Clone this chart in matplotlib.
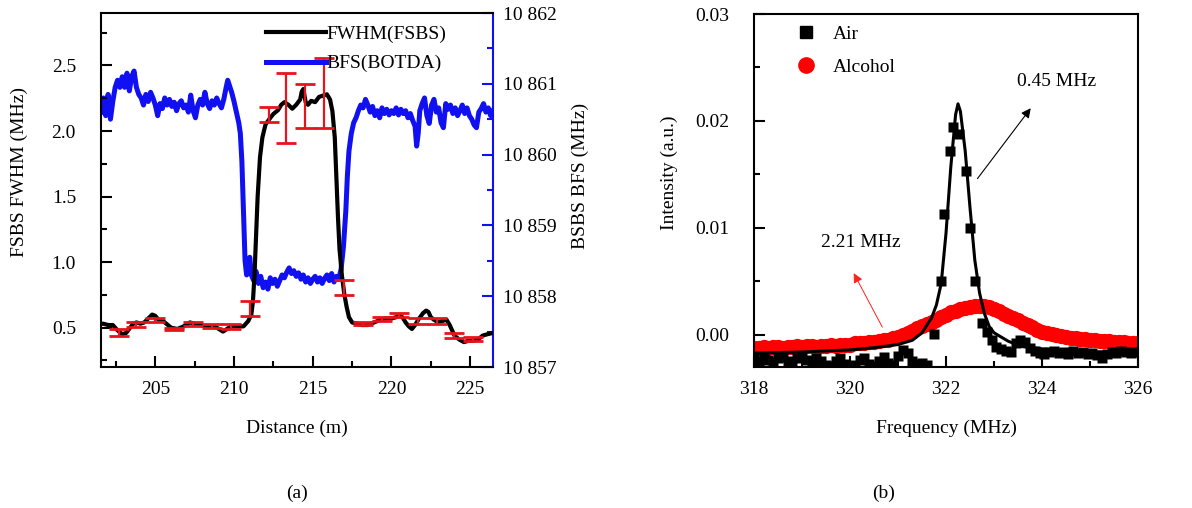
import matplotlib
matplotlib.use("Agg")
import matplotlib.pyplot as plt
from matplotlib.ticker import MultipleLocator, FuncFormatter, FormatStrFormatter
from matplotlib.lines import Line2D

plt.rcParams['font.family'] = ['Liberation Serif', 'DejaVu Serif']
plt.rcParams['font.size'] = 14

# ---------------- Panel (a) data ----------------
fwhm_x = [201.55, 201.7, 202.0, 202.3, 202.6, 202.9, 203.15, 203.4, 203.6, 203.8, 204.05, 204.3, 204.55,
          204.8, 205.0, 205.2, 205.5, 205.8, 206.0, 206.4, 206.8, 207.2, 207.5, 207.9, 208.2, 208.6,
          208.9, 209.3, 209.55, 209.8, 210.2, 210.6, 210.9, 211.1, 211.2, 211.3, 211.4, 211.5, 211.65,
          211.8, 212.0, 212.3, 212.5, 212.8, 213.0, 213.2, 213.45, 213.7, 213.95, 214.2, 214.3, 214.4,
          214.55, 214.7, 214.9, 215.15, 215.4, 215.65, 215.9, 216.1, 216.25, 216.4, 216.5, 216.6, 216.7,
          216.85, 217.0, 217.15, 217.3, 217.5, 217.8, 218.1, 218.5, 218.9, 219.3, 219.6, 220.0, 220.3,
          220.5, 220.7, 220.9, 221.1, 221.3, 221.5, 221.7, 222.0, 222.2, 222.35, 222.5, 222.7, 223.0,
          223.2, 223.5, 223.7, 224.0, 224.3, 224.6, 224.9, 225.2, 225.5, 225.8, 226.1, 226.45]
fwhm_y = [0.53, 0.53, 0.52, 0.52, 0.48, 0.45, 0.46, 0.50, 0.53, 0.54, 0.53, 0.54, 0.57,
          0.60, 0.59, 0.56, 0.55, 0.52, 0.50, 0.49, 0.51, 0.54, 0.53, 0.52, 0.51, 0.51,
          0.50, 0.47, 0.49, 0.51, 0.51, 0.51, 0.55, 0.60, 0.70, 0.90, 1.20, 1.50, 1.80,
          1.95, 2.05, 2.10, 2.13, 2.16, 2.20, 2.22, 2.20, 2.17, 2.20, 2.24, 2.30, 2.32,
          2.22, 2.20, 2.23, 2.22, 2.26, 2.27, 2.28, 2.24, 2.15, 1.95, 1.65, 1.35, 1.10,
          0.90, 0.76, 0.66, 0.58, 0.54, 0.53, 0.52, 0.52, 0.54, 0.56, 0.57, 0.57, 0.58,
          0.59, 0.58, 0.54, 0.51, 0.49, 0.52, 0.56, 0.61, 0.63, 0.62, 0.58, 0.56, 0.54,
          0.55, 0.56, 0.52, 0.44, 0.41, 0.39, 0.40, 0.40, 0.41, 0.44, 0.45, 0.46]

err_x = [202.7, 203.8, 205.0, 206.2, 207.4, 208.6, 209.8, 211.0, 212.2, 213.3,
         214.5, 215.7, 217.0, 218.2, 219.4, 220.5, 221.7, 222.9, 224.0, 225.2]
err_y = [0.465, 0.525, 0.555, 0.49, 0.525, 0.515, 0.51, 0.645, 2.125, 2.175,
         2.19, 2.29, 0.805, 0.53, 0.565, 0.595, 0.55, 0.55, 0.44, 0.415]
err_e = [0.025, 0.02, 0.015, 0.01, 0.015, 0.015, 0.02, 0.055, 0.055, 0.265,
         0.17, 0.27, 0.055, 0.01, 0.015, 0.015, 0.02, 0.02, 0.02, 0.015]

bfs_x = [201.55, 201.7, 201.85, 202.0, 202.15, 202.3, 202.45, 202.6, 202.75, 202.9, 203.05, 203.2,
         203.35, 203.5, 203.65, 203.8, 203.95, 204.1, 204.25, 204.4, 204.55, 204.7, 204.85, 205.0,
         205.15, 205.3, 205.45, 205.6, 205.75, 205.9, 206.05, 206.2, 206.35, 206.5, 206.65, 206.8,
         206.95, 207.1, 207.25, 207.4, 207.55, 207.7, 207.85, 208.0, 208.15, 208.3, 208.45, 208.6,
         208.75, 208.9, 209.05, 209.2, 209.35, 209.5, 209.6, 209.7, 209.85, 210.0, 210.15, 210.3,
         210.4, 210.5, 210.6, 210.7, 210.8, 210.9, 211.0, 211.1, 211.25, 211.4, 211.55, 211.7,
         211.85, 212.0, 212.15, 212.3, 212.45, 212.6, 212.75, 212.9, 213.05, 213.2, 213.35, 213.5,
         213.65, 213.8, 213.95, 214.1, 214.25, 214.4, 214.55, 214.7, 214.85, 215.0, 215.15, 215.3,
         215.45, 215.6, 215.75, 215.9, 216.05, 216.2, 216.35, 216.5, 216.65, 216.8, 216.95, 217.1,
         217.2, 217.3, 217.45, 217.6, 217.75, 217.9, 218.05, 218.2, 218.35, 218.5, 218.65, 218.8,
         218.95, 219.1, 219.25, 219.4, 219.55, 219.7, 219.85, 220.0, 220.15, 220.3, 220.45, 220.6,
         220.75, 220.9, 221.05, 221.2, 221.35, 221.5, 221.6, 221.7, 221.8, 221.95, 222.1, 222.25,
         222.4, 222.55, 222.7, 222.85, 223.0, 223.15, 223.3, 223.45, 223.6, 223.75, 223.9, 224.05,
         224.2, 224.35, 224.5, 224.65, 224.8, 224.95, 225.1, 225.25, 225.4, 225.55, 225.7, 225.85,
         226.0, 226.15, 226.3, 226.45]
bfs_y = [10860.60, 10860.80, 10860.55, 10860.85, 10860.50, 10860.75, 10860.95, 10861.05, 10860.95,
         10861.10, 10860.95, 10861.15, 10860.90, 10861.10, 10861.18, 10860.95, 10860.85, 10860.80,
         10860.70, 10860.85, 10860.75, 10860.88, 10860.80, 10860.70, 10860.55, 10860.72, 10860.65,
         10860.80, 10860.70, 10860.78, 10860.68, 10860.74, 10860.62, 10860.72, 10860.76, 10860.66,
         10860.70, 10860.60, 10860.84, 10860.62, 10860.52, 10860.70, 10860.78, 10860.70, 10860.88,
         10860.72, 10860.65, 10860.76, 10860.70, 10860.80, 10860.72, 10860.66, 10860.78, 10860.95,
         10861.05, 10860.98, 10860.88, 10860.75, 10860.60, 10860.45, 10860.30, 10859.90, 10859.20,
         10858.50, 10858.30, 10858.45, 10858.55, 10858.30, 10858.22, 10858.35, 10858.18, 10858.28,
         10858.12, 10858.20, 10858.10, 10858.26, 10858.18, 10858.24, 10858.14, 10858.22, 10858.30,
         10858.26, 10858.34, 10858.40, 10858.32, 10858.36, 10858.28, 10858.33, 10858.24, 10858.30,
         10858.20, 10858.26, 10858.18, 10858.24, 10858.28, 10858.20, 10858.26, 10858.18, 10858.25,
         10858.30, 10858.22, 10858.32, 10858.20, 10858.28, 10858.24, 10858.38, 10858.70, 10859.20,
         10859.70, 10860.05, 10860.30, 10860.45, 10860.52, 10860.62, 10860.70, 10860.66, 10860.78,
         10860.70, 10860.60, 10860.68, 10860.55, 10860.62, 10860.52, 10860.66, 10860.58, 10860.64,
         10860.56, 10860.62, 10860.58, 10860.66, 10860.56, 10860.64, 10860.58, 10860.62, 10860.52,
         10860.58, 10860.48, 10860.40, 10860.12, 10860.30, 10860.62, 10860.72, 10860.80, 10860.55,
         10860.44, 10860.70, 10860.78, 10860.60, 10860.66, 10860.45, 10860.38, 10860.72, 10860.64,
         10860.70, 10860.58, 10860.66, 10860.55, 10860.62, 10860.70, 10860.58, 10860.66, 10860.55,
         10860.50, 10860.42, 10860.38, 10860.60, 10860.65, 10860.72, 10860.60, 10860.66, 10860.55,
         10860.62]

# ---------------- Panel (b) data ----------------
air_f = [318.0, 318.1, 318.2, 318.3, 318.4, 318.5, 318.6, 318.7, 318.8, 318.9, 319.0, 319.1, 319.2,
         319.3, 319.4, 319.5, 319.6, 319.7, 319.8, 319.9, 320.0, 320.1, 320.2, 320.3, 320.4, 320.5,
         320.6, 320.7, 320.8, 320.9, 321.0, 321.1, 321.2, 321.3, 321.4, 321.5, 321.6, 321.76, 321.9,
         321.95, 322.08, 322.15, 322.28, 322.41, 322.49, 322.6, 322.74, 322.85, 322.95, 323.05,
         323.15, 323.25, 323.35, 323.45, 323.55, 323.65, 323.75, 323.85, 323.95, 324.05, 324.15,
         324.25, 324.35, 324.45, 324.55, 324.65, 324.75, 324.85, 324.95, 325.05, 325.15, 325.25,
         325.35, 325.45, 325.55, 325.65, 325.75, 325.85, 325.95]
air_i = [-0.0022, -0.0024, -0.0021, -0.0023, -0.0025, -0.0022, -0.0021, -0.0024, -0.0026, -0.0022,
         -0.0021, -0.0023, -0.0027, -0.0022, -0.0024, -0.0028, -0.0029, -0.0024, -0.0022, -0.0027,
         -0.0029, -0.0028, -0.0023, -0.0022, -0.0027, -0.0029, -0.0024, -0.0021, -0.0026, -0.0028,
         -0.0020, -0.0014, -0.0017, -0.0024, -0.0027, -0.0026, -0.0028, 0.0001, 0.0050,
         0.0113, 0.0172, 0.0194, 0.0188, 0.0153, 0.0100, 0.0050, 0.0011, 0.0003, -0.0005, -0.0011,
         -0.0013, -0.0015, -0.0016, -0.0008, -0.0005, -0.0007, -0.0012, -0.0015, -0.0017, -0.0018,
         -0.0016, -0.0015, -0.0017, -0.0016, -0.0018, -0.0015, -0.0017, -0.0016, -0.0018, -0.0017,
         -0.0019, -0.0022, -0.0018, -0.0016, -0.0017, -0.0015, -0.0016, -0.0017, -0.0016]

fit_f = [318.0, 319.0, 320.0, 320.5, 321.0, 321.3, 321.5, 321.7, 321.8, 321.9, 322.0, 322.1, 322.2,
         322.25, 322.3, 322.4, 322.5, 322.6, 322.7, 322.8, 322.9, 323.0, 323.3, 323.6, 324.0, 325.0, 326.0]
fit_i = [-0.0017, -0.0016, -0.0014, -0.0012, -0.0009, -0.0005, 0.0002, 0.0016, 0.0028, 0.0048,
         0.0095, 0.0157, 0.0206, 0.0216, 0.0209, 0.0172, 0.0119, 0.0070, 0.0039, 0.0020, 0.0008,
         0.0002, -0.0006, -0.0011, -0.0013, -0.0016, -0.0016]

alc_f = [318.0, 318.1, 318.2, 318.3, 318.4, 318.5, 318.6, 318.7, 318.8, 318.9, 319.0, 319.1, 319.2,
         319.3, 319.4, 319.5, 319.6, 319.7, 319.8, 319.9, 320.0, 320.1, 320.2, 320.3, 320.4, 320.5,
         320.6, 320.7, 320.8, 320.9, 321.0, 321.1, 321.2, 321.3, 321.4, 321.5, 321.6, 321.7, 321.8,
         321.9, 322.0, 322.1, 322.2, 322.3, 322.4, 322.5, 322.6, 322.7, 322.8, 322.9, 323.0, 323.1,
         323.2, 323.3, 323.4, 323.5, 323.6, 323.7, 323.8, 323.9, 324.0, 324.1, 324.2, 324.3, 324.4,
         324.5, 324.6, 324.7, 324.8, 324.9, 325.0, 325.1, 325.2, 325.3, 325.4, 325.5, 325.6, 325.7,
         325.8, 325.9, 326.0]
alc_i = [-0.0012, -0.0012, -0.0011, -0.0012, -0.0011, -0.0011, -0.0012, -0.0011, -0.0011, -0.0010,
         -0.0011, -0.0010, -0.0010, -0.0011, -0.0010, -0.0010, -0.0009, -0.0010, -0.0009, -0.0009,
         -0.0009, -0.0008, -0.0008, -0.0008, -0.0007, -0.0007, -0.0006, -0.0005, -0.0005, -0.0003,
         -0.0002, 0.0000, 0.0002, 0.0004, 0.0006, 0.0008, 0.0010, 0.0012, 0.0014, 0.0017, 0.0019,
         0.0021, 0.0022, 0.0024, 0.0025, 0.0026, 0.0027, 0.0027, 0.0027, 0.0026, 0.0024, 0.0022,
         0.0020, 0.0018, 0.0016, 0.0014, 0.0011, 0.0009, 0.0007, 0.0005, 0.0003, 0.0002, 0.0001,
         0.0000, -0.0001, -0.0002, -0.0003, -0.0003, -0.0004, -0.0004, -0.0005, -0.0005, -0.0006,
         -0.0006, -0.0006, -0.0007, -0.0007, -0.0007, -0.0008, -0.0008, -0.0008]

W, H = 1192, 508
fig = plt.figure(figsize=(W / 100, H / 100), dpi=100)

def box(x0, y0, x1, y1):
    return [x0 / W, 1 - y1 / H, (x1 - x0) / W, (y1 - y0) / H]

BLUE = '#1010f0'

# ---------------- Panel (a) ----------------
ax = fig.add_axes(box(101, 13, 493, 367))
ax2 = ax.twinx()
ax.set_zorder(ax2.get_zorder() + 1)
ax.patch.set_visible(False)

l_bfs, = ax2.plot(bfs_x, bfs_y, color=BLUE, lw=3.6, label='BFS(BOTDA)', solid_joinstyle='round')
l_fwhm, = ax.plot(fwhm_x, fwhm_y, color='black', lw=3.0, label='FWHM(FSBS)', solid_joinstyle='round')
ax.errorbar(err_x, err_y, yerr=err_e, fmt='none', ecolor='#e8141c', elinewidth=1.6,
            capsize=7, capthick=2.0, zorder=5)

ax.set_xlim(201.55, 226.45)
ax.set_ylim(0.2, 2.9)
ax2.set_ylim(10857, 10862)

ax.xaxis.set_major_locator(MultipleLocator(5))
ax.xaxis.set_minor_locator(MultipleLocator(2.5))
ax.yaxis.set_major_locator(MultipleLocator(0.5))
ax.yaxis.set_minor_locator(MultipleLocator(0.25))
ax.yaxis.set_major_formatter(FormatStrFormatter('%.1f'))
ax2.yaxis.set_major_locator(MultipleLocator(1))
ax2.yaxis.set_minor_locator(MultipleLocator(0.5))
ax2.yaxis.set_major_formatter(FuncFormatter(lambda v, p: f"{int(round(v)) // 1000} {int(round(v)) % 1000:03d}"))

ax.tick_params(which='major', direction='in', length=8, width=1.5, labelsize=14)
ax.tick_params(which='minor', direction='in', length=4, width=1.5)
ax.tick_params(axis='y', which='major', pad=18)
ax.tick_params(axis='x', which='major', pad=10)
ax2.tick_params(which='major', direction='in', length=8, width=1.5, labelsize=14, colors=BLUE,
                labelcolor='black', pad=7)
ax2.tick_params(which='minor', direction='in', length=4, width=1.5, colors=BLUE)

for s in ['left', 'bottom', 'top']:
    ax.spines[s].set_linewidth(1.5)
ax.spines['right'].set_visible(False)
for s in ['left', 'bottom', 'top']:
    ax2.spines[s].set_visible(False)
ax2.spines['right'].set_color(BLUE)
ax2.spines['right'].set_linewidth(1.5)

ax.set_xlabel('Distance (m)', fontsize=14, labelpad=16)
ax.set_ylabel('FSBS FWHM (MHz)', fontsize=14)
ax.yaxis.set_label_coords(-0.185, 0.55)
ax2.set_ylabel('BSBS BFS (MHz)', fontsize=14)
ax2.yaxis.set_label_coords(1.20, 0.54)

ax.legend(handles=[l_fwhm, l_bfs], loc='upper left', bbox_to_anchor=(0.41, 0.977), frameon=False,
          fontsize=14, handlelength=3.1, handletextpad=0.05, labelspacing=0.62, borderpad=0.2,
          borderaxespad=0)

# ---------------- Panel (b) ----------------
bx = fig.add_axes(box(754, 14, 1138, 367))
bx.plot(alc_f, alc_i, 'o', color='#ff0000', ms=11, mec='none', label='Alcohol', zorder=2)
bx.plot(air_f, air_i, 's', color='black', ms=7.5, mec='none', label='Air', zorder=3)
bx.plot(fit_f, fit_i, '-', color='black', lw=2.2, zorder=4)

bx.set_xlim(318, 326)
bx.set_ylim(-0.003, 0.03)
bx.xaxis.set_major_locator(MultipleLocator(2))
bx.xaxis.set_minor_locator(MultipleLocator(1))
bx.yaxis.set_major_locator(MultipleLocator(0.01))
bx.yaxis.set_minor_locator(MultipleLocator(0.005))
bx.yaxis.set_major_formatter(FormatStrFormatter('%.2f'))
bx.tick_params(which='major', direction='in', length=8, width=1.5, labelsize=14)
bx.tick_params(which='minor', direction='in', length=4, width=1.5)
bx.tick_params(axis='y', which='major', pad=18)
bx.tick_params(axis='x', which='major', pad=10)
for s in bx.spines.values():
    s.set_linewidth(1.5)
bx.set_xlabel('Frequency (MHz)', fontsize=14, labelpad=16)
bx.set_ylabel('Intensity (a.u.)', fontsize=14)
bx.yaxis.set_label_coords(-0.197, 0.55)

h_air = Line2D([], [], ls='none', marker='s', color='black', ms=8.5)
h_alc = Line2D([], [], ls='none', marker='o', color='#ff0000', ms=11)
bx.legend(handles=[h_air, h_alc], labels=['Air', 'Alcohol'], loc='upper left',
          bbox_to_anchor=(0.10, 0.98), frameon=False, fontsize=14, handlelength=1.0,
          handletextpad=0.9, labelspacing=0.8, borderpad=0.2, borderaxespad=0)

bx.annotate('', xy=(323.8, 0.0214), xytext=(322.62, 0.0144),
            arrowprops=dict(arrowstyle='-|>', color='black', lw=0.8, mutation_scale=14))
bx.text(324.3, 0.0237, '0.45 MHz', fontsize=14, ha='center', va='center')
bx.annotate('', xy=(320.05, 0.0060), xytext=(320.7, 0.0005),
            arrowprops=dict(arrowstyle='-|>', color='#ff2020', lw=0.7, mutation_scale=14))
bx.text(320.23, 0.0086, '2.21 MHz', fontsize=14, ha='center', va='center')

fig.text(297 / W, 1 - 493 / H, '(a)', fontsize=14, ha='center', va='center')
fig.text(884 / W, 1 - 493 / H, '(b)', fontsize=14, ha='center', va='center')

fig.savefig('out.png', dpi=100)
